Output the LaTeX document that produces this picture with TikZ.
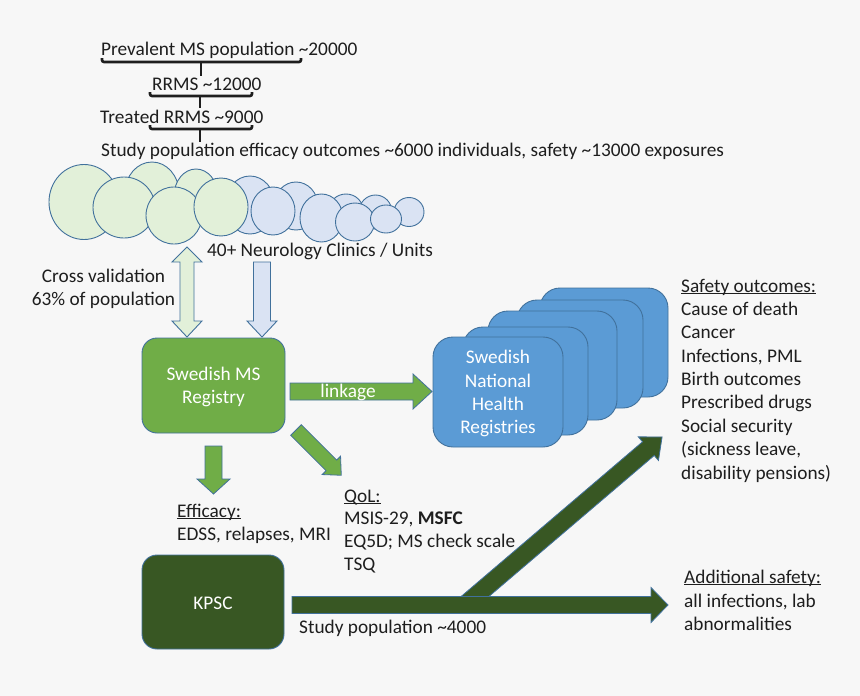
\documentclass[tikz,border=0pt]{standalone}
\usepackage{fontspec}
\setmainfont{Carlito}
\definecolor{bg}{HTML}{F7F7F7}
\definecolor{ink}{HTML}{1E1E1E}
\definecolor{edge}{HTML}{41719C}
\definecolor{lgreen}{HTML}{E2F0D9}
\definecolor{lblue}{HTML}{DAE3F3}
\definecolor{mgreen}{HTML}{70AD47}
\definecolor{dgreen}{HTML}{385723}
\definecolor{mblue}{HTML}{5B9BD5}
\newcommand\myul[1]{\setbox0\hbox{#1}\rlap{\rule[-2.4pt]{\wd0}{1.1pt}}\box0}
\newcommand\blockarr[7]{%
  \begin{scope}[shift={#2},rotate=#3]
    \draw[#1] (0,#5) -- ({#4-#7},#5) -- ({#4-#7},#6) -- (#4,0) -- ({#4-#7},-#6) -- ({#4-#7},-#5) -- (0,-#5) -- cycle;
  \end{scope}}
\tikzset{
  txt/.style={inner sep=0pt, text=ink, font=\fontsize{19.3}{23.5}\selectfont},
  wtxt/.style={txt, text=white, align=center},
  brk/.style={line width=2.6pt, draw=ink, rounded corners=2pt},
  gcirc/.style={fill=lgreen, draw=edge, line width=0.9pt},
  bcirc/.style={fill=lblue, draw=edge, line width=0.9pt},
  regbox/.style={fill=mgreen, draw=edge, line width=0.9pt, rounded corners=15pt},
  kbox/.style={fill=dgreen, draw=edge, line width=0.9pt, rounded corners=15pt},
  nbox/.style={fill=mblue, draw=edge, line width=0.9pt, rounded corners=20pt},
  garr/.style={fill=mgreen, draw=edge, line width=0.8pt},
  darr/.style={fill=dgreen, draw=edge, line width=0.8pt},
  lgarr/.style={fill=lgreen, draw=edge, line width=0.9pt},
  lbarr/.style={fill=lblue, draw=edge, line width=0.9pt}
}
\begin{document}
\begin{tikzpicture}[x=1pt,y=-1pt]
\fill[bg] (0,0) rectangle (860,696);
\useasboundingbox (0,0) rectangle (860,696);

% population tree
\node[txt, anchor=base west] (p1) at (101,55) {Prevalent MS population \textasciitilde 20000};
\draw[brk] (102,58) -- (102,62) -- (301,62) -- (301,58);
\draw[brk] (201,62) -- (201,76);
\node[txt, anchor=base west] (p2) at (152,90) {RRMS \textasciitilde 12000};
\draw[brk] (150,92) -- (150,96) -- (252,96) -- (252,92);
\draw[brk] (200,96) -- (200,108);
\node[txt, anchor=base west] (p3) at (100,123) {Treated RRMS \textasciitilde 9000};
\draw[brk] (150,125) -- (150,129) -- (252,129) -- (252,125);
\draw[brk] (200,129) -- (200,142);
\node[txt, anchor=base west] (p4) at (101,156) {Study population efficacy outcomes \textasciitilde 6000 individuals, safety \textasciitilde 13000 exposures};

% clinics (circles)
\draw[gcirc] (152,193) ellipse [x radius=27, y radius=31];
\draw[gcirc] (196,196) ellipse [x radius=22, y radius=27];
\draw[bcirc] (250,205) ellipse [x radius=25, y radius=29];
\draw[bcirc] (296,206) ellipse [x radius=22, y radius=24];
\draw[bcirc] (346,210) ellipse [x radius=17, y radius=16];
\draw[bcirc] (375.5,212) ellipse [x radius=16.5, y radius=17];
\draw[bcirc] (409,212) ellipse [x radius=15, y radius=14.5];
\draw[gcirc] (84,202) ellipse [x radius=35, y radius=37.5];
\draw[gcirc] (124,207.5) ellipse [x radius=31, y radius=30.5];
\draw[gcirc] (174,215.5) ellipse [x radius=28, y radius=28.5];
\draw[gcirc] (221,207) ellipse [x radius=27, y radius=29];
\draw[bcirc] (273,211) ellipse [x radius=22, y radius=24];
\draw[bcirc] (321.5,218) ellipse [x radius=21.5, y radius=24];
\draw[bcirc] (355,222) ellipse [x radius=19.5, y radius=19];
\draw[bcirc] (386,219) ellipse [x radius=15.5, y radius=14];
\node[txt, anchor=base west] (clin) at (207,256) {40+ Neurology Clinics / Units};

% cross validation
\node[txt, anchor=base] (cv1) at (103.5,282) {Cross validation};
\node[txt, anchor=base] (cv2) at (103.5,305) {63\% of population};
\draw[lgarr] (187,247) -- (202,262) -- (194,262) -- (194,321) -- (202,321) -- (187,337) -- (172,321) -- (180,321) -- (180,262) -- (172,262) -- cycle;
\blockarr{lbarr}{(262,262)}{-90}{75}{8.5}{15}{16}

% Swedish MS Registry
\node[regbox, minimum width=143pt, minimum height=95pt] (reg) at (213.5,385.5) {};
\node[wtxt, anchor=base] (reg1) at (213.5,380) {Swedish MS};
\node[wtxt, anchor=base] (reg2) at (213.5,403) {Registry};

% linkage
\blockarr{garr}{(290,391.5)}{0}{142}{8.5}{17.5}{19}
\node[wtxt, anchor=base] (link) at (348,397) {linkage};

% national registries stack
\node[nbox, minimum width=128pt, minimum height=109pt] (n5) at (604,342.5) {};
\node[nbox, minimum width=126pt, minimum height=108pt] (n4) at (580,354) {};
\node[nbox, minimum width=129pt, minimum height=109pt] (n3) at (552.5,365.5) {};
\node[nbox, minimum width=125pt, minimum height=108pt] (n2) at (525.5,381) {};
\node[nbox, minimum width=130pt, minimum height=110pt] (n1) at (498,392) {};
\node[wtxt, anchor=base] (nt1) at (498,363) {Swedish};
\node[wtxt, anchor=base] (nt2) at (498,387) {National};
\node[wtxt, anchor=base] (nt3) at (498,410) {Health};
\node[wtxt, anchor=base] (nt4) at (498,433) {Registries};

% safety outcomes
\node[txt, anchor=base west] (s0) at (681,292) {\myul{Safety outcomes:}};
\node[txt, anchor=base west] (s1) at (681,315) {Cause of death};
\node[txt, anchor=base west] (s2) at (681,338) {Cancer};
\node[txt, anchor=base west] (s3) at (681,362) {Infections, PML};
\node[txt, anchor=base west] (s4) at (681,385) {Birth outcomes};
\node[txt, anchor=base west] (s5) at (681,408) {Prescribed drugs};
\node[txt, anchor=base west] (s6) at (681,432) {Social security};
\node[txt, anchor=base west] (s7) at (681,455) {(sickness leave,};
\node[txt, anchor=base west] (s8) at (681,479) {disability pensions)};

% efficacy & QoL arrows
\blockarr{garr}{(213.5,446)}{-90}{48}{8.5}{16.5}{15}
\blockarr{garr}{(296,430)}{-45}{64}{7.5}{13}{14}
\node[txt, anchor=base west] (ef0) at (177,517) {\myul{Efficacy:}};
\node[txt, anchor=base west] (ef1) at (177,540) {EDSS, relapses, MRI};
\node[txt, anchor=base west] (q0) at (344,502) {\myul{QoL:}};
\node[txt, anchor=base west] (q1) at (344,524) {MSIS-29, \textbf{MSFC}};
\node[txt, anchor=base west] (q2) at (344,547) {EQ5D; MS check scale};
\node[txt, anchor=base west] (q3) at (344,570) {TSQ};

% KPSC
\node[kbox, minimum width=142pt, minimum height=94pt] (kpsc) at (213,602) {};
\node[wtxt, anchor=base] (kt) at (213,609) {KPSC};
\blockarr{darr}{(465,605)}{40.45}{259}{9}{15.5}{18}
\blockarr{darr}{(292,605)}{0}{376}{8.5}{17.5}{17}
\node[txt, anchor=base west] (sp) at (299,633) {Study population \textasciitilde 4000};
\node[txt, anchor=base west] (a0) at (684,583) {\myul{Additional safety:}};
\node[txt, anchor=base west] (a1) at (684,607) {all infections, lab};
\node[txt, anchor=base west] (a2) at (684,630) {abnormalities};
\end{tikzpicture}
\end{document}
